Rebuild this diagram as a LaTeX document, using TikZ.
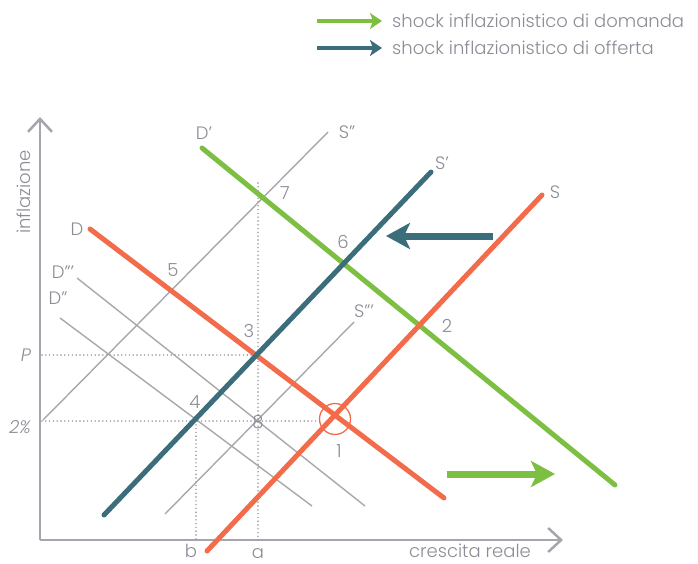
\documentclass[tikz,border=0pt]{standalone}
\usepackage{fontspec}
\setmainfont{Poppins}[UprightFont=* Light, ItalicFont=* Light Italic]
\usetikzlibrary{arrows.meta}
\definecolor{cor}{HTML}{F26B4A}
\definecolor{grn}{HTML}{7DBF42}
\definecolor{tea}{HTML}{3B6E7A}
\definecolor{gln}{HTML}{A8A8AC}
\definecolor{gtx}{HTML}{8C8C96}
\definecolor{gax}{HTML}{A5A5AD}
\newcommand{\pr}{\char"0027}
\tikzset{
  lbl/.style={text=gtx, font=\fontsize{18}{18}\selectfont, inner sep=0pt},
  thickcurve/.style={line width=5pt, line cap=round},
  thincurve/.style={line width=1.4pt, draw=gln},
  axisline/.style={line width=2.5pt, draw=gax, -{Straight Barb[length=13pt,width=24pt,line width=2.5pt]}},
  dotline/.style={draw=gtx, line width=1.6pt, dash pattern=on 0pt off 3.8pt, line cap=round},
  bigarrow/.style={line width=7pt, -{Stealth[length=24pt,width=26pt,inset=6pt]}},
  legarrow/.style={line width=4.5pt, -{Stealth[length=12pt,width=16pt,inset=3pt]}},
}
\begin{document}
\begin{tikzpicture}[x=1pt,y=-1pt]
\useasboundingbox (0,0) rectangle (698,564);
% legend
\node[lbl, anchor=west] (leg1) at (392,21) {shock inflazionistico di domanda};
\node[lbl, anchor=west] (leg2) at (392,48) {shock inflazionistico di offerta};
\coordinate (la1) at (317,21);
\coordinate (la2) at (317,48);
\draw[legarrow, grn] (la1) -- ([xshift=-10pt]leg1.west);
\draw[legarrow, tea] (la2) -- ([xshift=-10pt]leg2.west);
% axes
\coordinate (O) at (40,540);
\coordinate (ytop) at (40,117);
\coordinate (xend) at (563,540);
\draw[axisline] (O) -- (ytop);
\draw[axisline] (O) -- (xend);
\node[lbl, rotate=90] (ylab) at (24,192) {inflazione};
\node[lbl] (xlab) at (470,551) {crescita reale};
% dotted guides
\coordinate (pP) at (42,355);
\coordinate (p3) at (258,355);
\coordinate (p2l) at (42,421);
\coordinate (p1l) at (320,421);
\coordinate (atop) at (258,183);
\coordinate (abot) at (258,540);
\coordinate (btop) at (196,421);
\coordinate (bbot) at (196,540);
\draw[dotline] (pP) -- (p3);
\draw[dotline] (p2l) -- (p1l);
\draw[dotline] (atop) -- (abot);
\draw[dotline] (btop) -- (bbot);
% thin gray curves
\coordinate (Spp1) at (43,420);  \coordinate (Spp2) at (328,132);
\coordinate (Sppp1) at (165,514); \coordinate (Sppp2) at (354,322);
\coordinate (Dpp1) at (60,318);  \coordinate (Dpp2) at (312,506);
\coordinate (Dppp1) at (77,278); \coordinate (Dppp2) at (365,506);
\draw[thincurve] (Spp1) -- (Spp2);
\draw[thincurve] (Sppp1) -- (Sppp2);
\draw[thincurve] (Dpp1) -- (Dpp2);
\draw[thincurve] (Dppp1) -- (Dppp2);
% thick curves
\coordinate (D1) at (90,229);  \coordinate (D2) at (444,498);
\coordinate (Dp1) at (202,148); \coordinate (Dp2) at (615,485);
\coordinate (S1) at (207,551);  \coordinate (S2) at (542,195);
\coordinate (Sp1) at (104,515); \coordinate (Sp2) at (431,172);
\draw[thickcurve, grn] (Dp1) -- (Dp2);
\draw[thickcurve, cor] (D1) -- (D2);
\draw[thickcurve, cor] (S1) -- (S2);
\draw[thickcurve, tea] (Sp1) -- (Sp2);
% circle at 1
\node[circle, draw=cor, line width=1.3pt, minimum size=31pt, inner sep=0pt] (c1) at (335,419) {};
% big shift arrows
\coordinate (ta1) at (493,236); \coordinate (ta2) at (386,236);
\coordinate (ga1) at (447,474); \coordinate (ga2) at (555,474);
\draw[bigarrow, tea] (ta1) -- (ta2);
\draw[bigarrow, grn] (ga1) -- (ga2);
% curve labels
\node[lbl] (lD) at (77,229) {D};
\node[lbl] (lDp) at (204,133) {D\pr};
\node[lbl] (lDpp) at (58,298) {D\pr\pr};
\node[lbl] (lDppp) at (63,272) {D\pr\pr\pr};
\node[lbl] (lS) at (555,192) {S};
\node[lbl] (lSp) at (442,163) {S\pr};
\node[lbl] (lSpp) at (347,132) {S\pr\pr};
\node[lbl] (lSppp) at (364,311) {S\pr\pr\pr};
% axis values
\node[lbl] (lP) at (26,355) {\itshape P};
\node[lbl] (l2) at (20,427) {\itshape 2\%};
\node[lbl] (lb) at (191,551) {b};
\node[lbl] (la) at (258,554) {a};
% point numbers
\node[lbl] (n1) at (339,451) {1};
\node[lbl] (n2) at (447,326) {2};
\node[lbl] (n3) at (249,331) {3};
\node[lbl] (n4) at (195,402) {4};
\node[lbl] (n5) at (173,270) {5};
\node[lbl] (n6) at (343,242) {6};
\node[lbl] (n7) at (285,193) {7};
\node[lbl] (n8) at (258,422) {8};
\end{tikzpicture}
\end{document}
